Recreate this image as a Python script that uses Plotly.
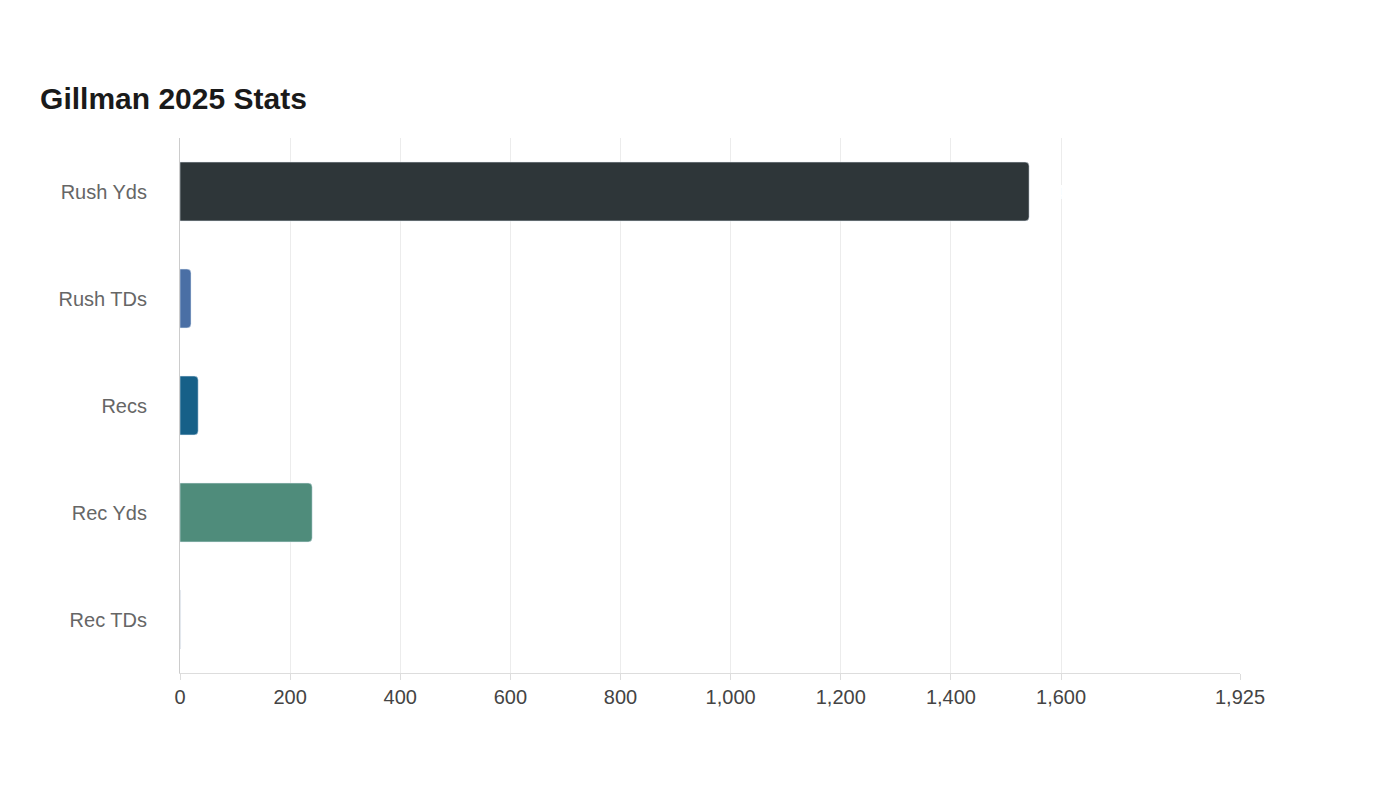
import plotly.graph_objects as go

# stats
stats = ["Rush Yds", "Rush TDs", "Recs", "Rec Yds", "Rec TDs"]
values = [1542, 20, 33, 240, 1]
colors = ["#2e3639", "#4a6fa5", "#166088", "#4f8c7b", "#c9c9c9"]
tick_vals = [0, 200, 400, 600, 800, 1000, 1200, 1400, 1600, 1925]

fig = go.Figure()
fig.add_trace(go.Bar(
    y=stats, x=values, orientation="h",
    marker=dict(color=colors, cornerradius=4),
    text=values, textposition="outside", cliponaxis=False,
    textfont=dict(color="white", size=20, family="Liberation Sans"),
    width=0.55, hoverinfo="x+y",
))

fig.update_layout(
    title=dict(text="<b>Gillman 2025 Stats</b>", x=0.0229, y=0.9,
               font=dict(size=30, color="#1a1a1a", family="Liberation Sans")),
    width=1400, height=800,
    margin=dict(l=172, r=168, t=130, b=135),
    plot_bgcolor="white", paper_bgcolor="white",
    font=dict(family="Liberation Sans", size=20, color="#666"),
    showlegend=False,
)
fig.update_xaxes(range=[0, 1925], tickvals=tick_vals, tickformat=",",
                 showgrid=True, gridcolor="#ececec", zeroline=False,
                 showline=True, linecolor="#ddd", ticks="outside",
                 ticklen=6, tickcolor="#ddd", tickfont=dict(color="#444", size=20))
fig.update_yaxes(autorange="reversed", showline=True, linecolor="#ccc",
                 ticks="", ticklabelstandoff=28, tickfont=dict(color="#666", size=20))

fig.write_html("out.html")
